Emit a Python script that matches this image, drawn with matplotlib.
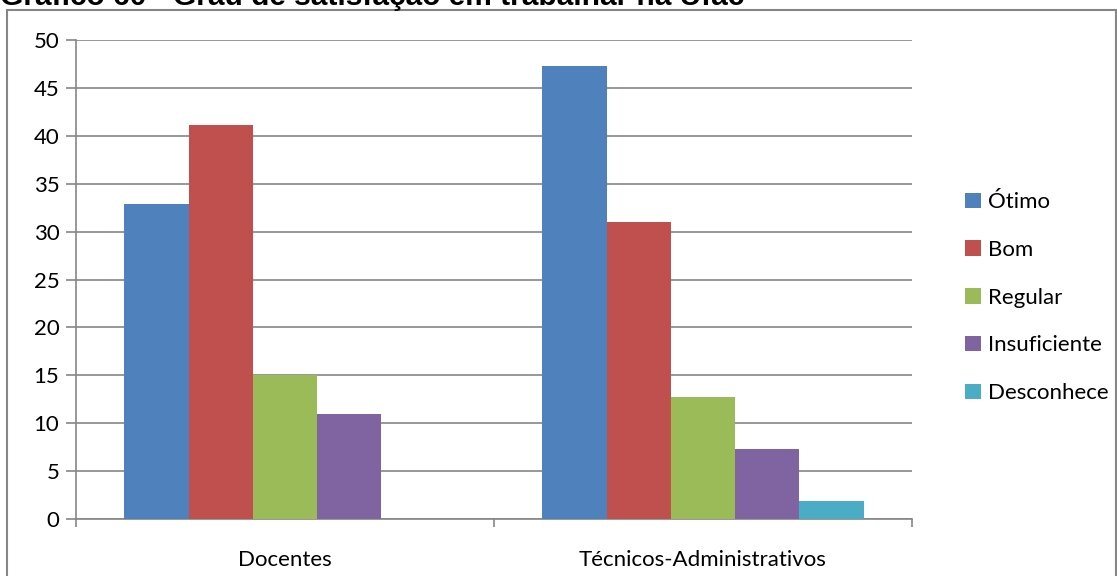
import numpy as np
import matplotlib.pyplot as plt
from matplotlib.patches import Rectangle

plt.rcParams['font.family'] = ['Lato', 'DejaVu Sans']

categories = ['Docentes', 'Técnicos-Administrativos']
series = ['Ótimo', 'Bom', 'Regular', 'Insuficiente', 'Desconhece']
otimo = [32.9, 47.3]
bom = [41.1, 31.0]
regular = [15.0, 12.7]
insuficiente = [11.0, 7.3]
desconhece = [0.0, 1.9]
colors = ['#4f81bd', '#c0504d', '#9bbb59', '#8064a2', '#4bacc6']
title = 'Gráfico 60 - Grau de satisfação em trabalhar na Ufac'

W, H = 1117, 576
fig = plt.figure(figsize=(W / 100, H / 100), dpi=100)

# outer frame of the chart
fig.patches.append(Rectangle((7 / W, -0.01), 1 - 8 / W, 1 - 10 / H + 0.01, transform=fig.transFigure,
                             fill=False, edgecolor='#868686', linewidth=1.5))
# title is clipped by the top edge, as in the source picture
fig.text(0, 1 - 5 / H, title, fontsize=21.5, fontweight='bold', family='Liberation Sans',
         va='baseline', ha='left')

ax = fig.add_axes([76 / W, 1 - 519 / H, (912 - 76) / W, (519 - 40) / H])

data = [otimo, bom, regular, insuficiente, desconhece]
x = np.arange(len(categories))
bw = 0.1536
for i, (name, vals) in enumerate(zip(series, data)):
    ax.bar(x + (i - 2) * bw, vals, width=bw, color=colors[i], label=name, zorder=3)

ax.set_xlim(-0.5, 1.5)
ax.set_ylim(0, 50)
ax.set_yticks(range(0, 51, 5))
ax.yaxis.grid(True, color='#868686', linewidth=1.2, zorder=0)
ax.set_xticks([-0.5, 0.5, 1.5])
ax.set_xticklabels([])
ax.set_xticks(x, minor=True)
ax.set_xticklabels(categories, minor=True)
ax.tick_params(axis='x', which='minor', length=0, pad=22, labelsize=16)
ax.tick_params(axis='x', which='major', length=6, color='#868686', width=1.2)
ax.tick_params(axis='y', length=7, color='#868686', width=1.2, labelsize=16, pad=5)
for s in ['top', 'right']:
    ax.spines[s].set_visible(False)
for s in ['left', 'bottom']:
    ax.spines[s].set_color('#868686')
    ax.spines[s].set_linewidth(1.2)

ax.legend(loc='center left', bbox_to_anchor=(1.04, 0.462), frameon=False, fontsize=16,
          handlelength=0.7, handleheight=0.7, handletextpad=0.3, labelspacing=1.25)

fig.savefig('out.png', dpi=100)
